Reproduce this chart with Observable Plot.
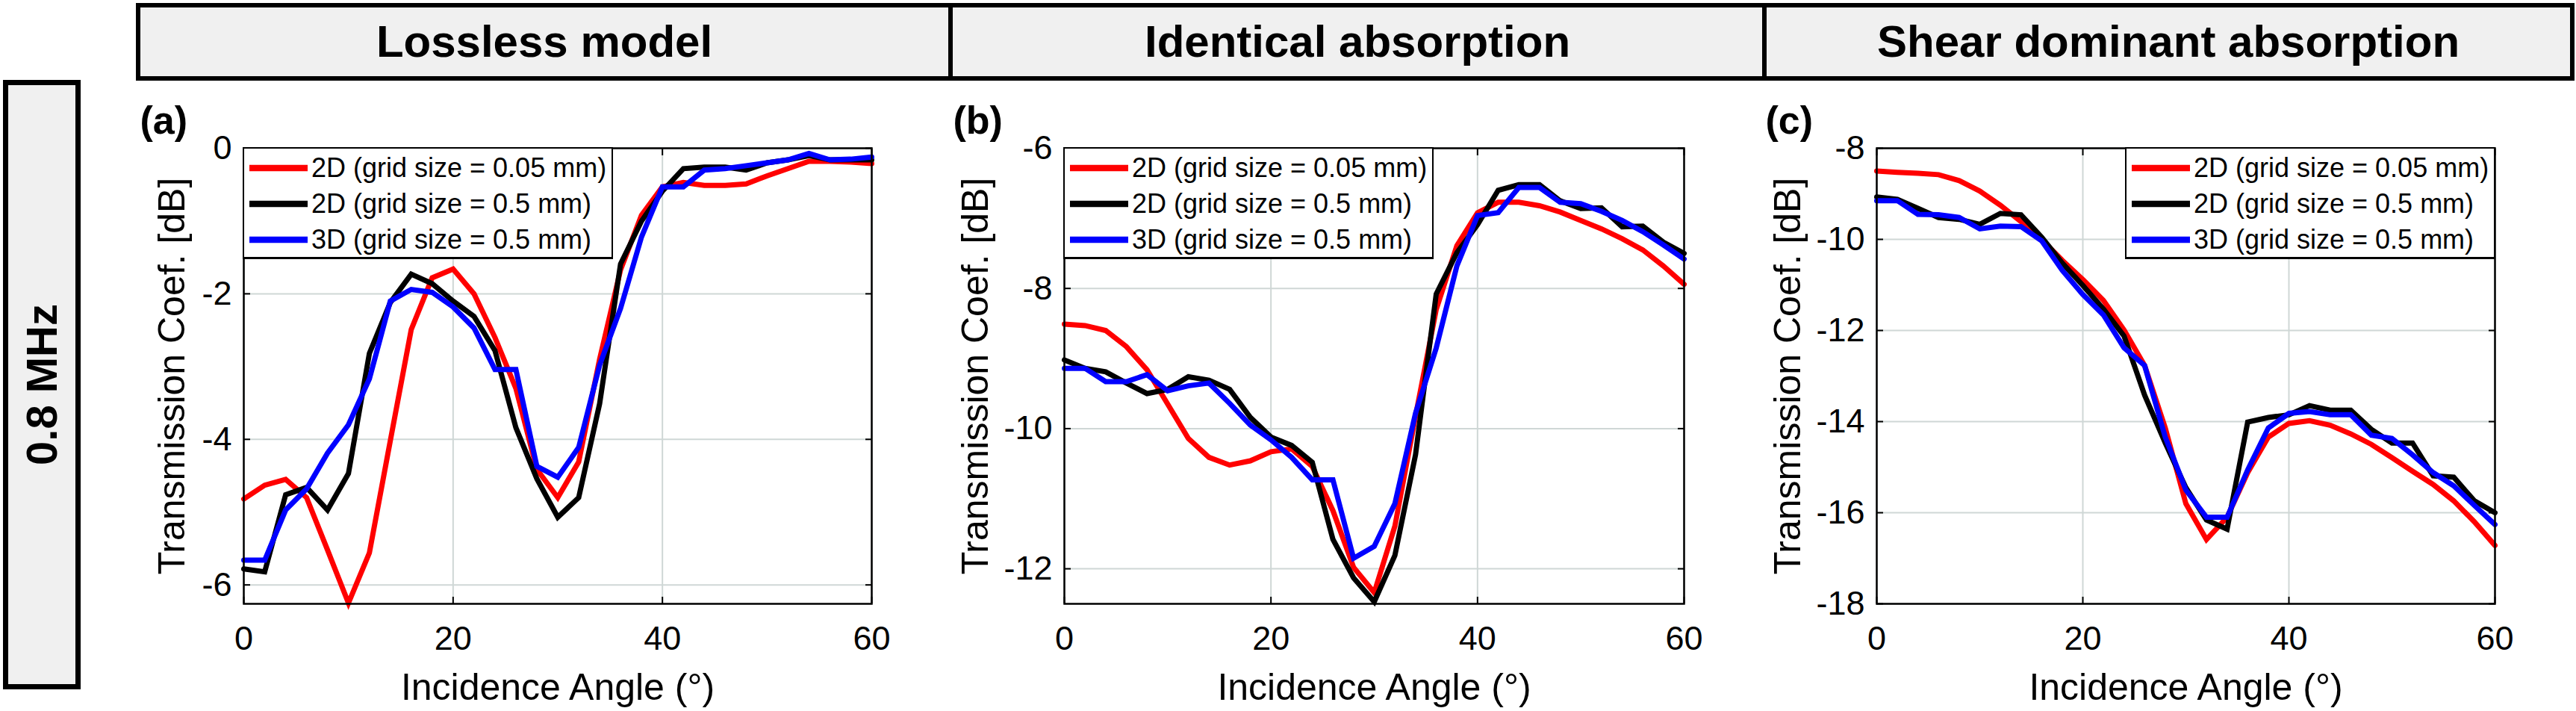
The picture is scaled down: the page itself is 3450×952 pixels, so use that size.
<!DOCTYPE html>
<html>
<head>
<meta charset="utf-8">
<script src="https://cdn.jsdelivr.net/npm/d3@7"></script>
<script src="https://cdn.jsdelivr.net/npm/@observablehq/plot@0.6"></script>
<style>
  html, body { margin: 0; padding: 0; background: #fff; }
  #root { position: relative; width: 3450px; height: 952px; overflow: hidden;
          font-family: "Liberation Sans", Arial, Helvetica, sans-serif; color: #000; }
  .hdr { position: absolute; box-sizing: border-box; border: 6px solid #000; background: #f0f0f0;
         display: flex; align-items: center; justify-content: center;
         font-weight: bold; font-size: 60px; line-height: 1; }
  .rowlab { position: absolute; box-sizing: border-box; border: 7px solid #000; background: #f0f0f0;
            display: flex; align-items: center; justify-content: center; }
  .rowlab span { display: block; transform: rotate(-90deg); white-space: nowrap;
                 font-weight: bold; font-size: 58px; line-height: 1; }
  .plotwrap { position: absolute; }
  .legend { position: absolute; box-sizing: border-box; background: #fff;
            border: 2px solid #000; border-bottom-width: 3px; padding-top: 2px; }
  .legrow { display: flex; align-items: center; height: 48px; font-size: 36px; white-space: nowrap; }
  .legrow svg { margin-left: 7px; margin-right: 5px; flex: none; }
</style>
</head>
<body>
<div id="root"></div>
<script>
// ---------------- data ----------------
const anglesDeg = [0, 2, 4, 6, 8, 10, 12, 14, 16, 18, 20, 22, 24, 26, 28, 30,
                   32, 34, 36, 38, 40, 42, 44, 46, 48, 50, 52, 54, 56, 58, 60];

const seriesNames = ["2D (grid size = 0.05 mm)", "2D (grid size = 0.5 mm)", "3D (grid size = 0.5 mm)"];
const seriesColors = ["#ff0000", "#000000", "#0000ff"];

const panelTitles = ["Lossless model", "Identical absorption", "Shear dominant absorption"];
const panelLetters = ["(a)", "(b)", "(c)"];
const rowLabel = "0.8 MHz";
const xLabel = "Incidence Angle (°)";
const yLabel = "Transmission Coef. [dB]";

const xTicks = [0, 20, 40, 60];
const yTicksA = [0, -2, -4, -6];
const yTicksB = [-6, -8, -10, -12];
const yTicksC = [-8, -10, -12, -14, -16, -18];
const yDomainA = [-6.26, 0];
const yDomainB = [-12.5, -6];
const yDomainC = [-18, -8];

// (a) Lossless model
const aRed   = [-4.82, -4.63, -4.55, -4.80, -5.52, -6.25, -5.56, -4.02, -2.49, -1.78, -1.66, -2.00, -2.60, -3.30, -4.41, -4.80,
                -4.31, -2.90, -1.67, -0.92, -0.53, -0.47, -0.51, -0.51, -0.49, -0.38, -0.28, -0.18, -0.18, -0.19, -0.21];
const aBlack = [-5.78, -5.82, -4.76, -4.66, -4.97, -4.47, -2.82, -2.12, -1.73, -1.86, -2.10, -2.31, -2.78, -3.84, -4.54, -5.07,
                -4.80, -3.51, -1.59, -1.00, -0.59, -0.28, -0.26, -0.26, -0.30, -0.20, -0.16, -0.10, -0.16, -0.16, -0.16];
const aBlue  = [-5.66, -5.66, -4.97, -4.68, -4.19, -3.80, -3.17, -2.10, -1.94, -1.98, -2.18, -2.47, -3.04, -3.04, -4.37, -4.52,
                -4.11, -2.98, -2.20, -1.22, -0.53, -0.53, -0.30, -0.28, -0.24, -0.20, -0.16, -0.07, -0.16, -0.15, -0.12];

// (b) Identical absorption
const bRed   = [-8.51, -8.53, -8.60, -8.83, -9.16, -9.65, -10.14, -10.41, -10.52, -10.46, -10.33, -10.29, -10.54, -11.17, -11.98, -12.34,
                -11.39, -9.82, -8.30, -7.39, -6.92, -6.77, -6.77, -6.82, -6.91, -7.03, -7.15, -7.29, -7.45, -7.68, -7.94];
const bBlack = [-9.02, -9.14, -9.19, -9.35, -9.50, -9.44, -9.26, -9.31, -9.44, -9.84, -10.12, -10.24, -10.48, -11.58, -12.13, -12.47,
                -11.81, -10.37, -8.08, -7.49, -7.09, -6.60, -6.52, -6.52, -6.75, -6.86, -6.85, -7.12, -7.11, -7.34, -7.50];
const bBlue  = [-9.14, -9.14, -9.33, -9.33, -9.23, -9.46, -9.39, -9.35, -9.64, -9.95, -10.16, -10.41, -10.73, -10.73, -11.85, -11.68,
                -11.07, -9.78, -8.85, -7.68, -6.96, -6.92, -6.56, -6.56, -6.77, -6.79, -6.90, -7.03, -7.19, -7.38, -7.58];

// (c) Shear dominant absorption
const cRed   = [-8.50, -8.53, -8.55, -8.58, -8.71, -8.94, -9.25, -9.61, -10.00, -10.46, -10.88, -11.34, -11.99, -12.77, -14.14, -15.80,
                -16.59, -16.10, -15.12, -14.34, -14.04, -13.98, -14.08, -14.27, -14.50, -14.79, -15.09, -15.38, -15.74, -16.20, -16.72];
const cBlack = [-9.07, -9.12, -9.32, -9.52, -9.56, -9.67, -9.43, -9.46, -9.95, -10.52, -11.01, -11.53, -12.12, -13.42, -14.47, -15.45,
                -16.16, -16.36, -14.01, -13.91, -13.85, -13.65, -13.75, -13.75, -14.17, -14.47, -14.47, -15.19, -15.22, -15.74, -16.00];
const cBlue  = [-9.15, -9.15, -9.45, -9.46, -9.52, -9.77, -9.71, -9.72, -10.03, -10.68, -11.21, -11.66, -12.38, -12.77, -14.34, -15.50,
                -16.10, -16.10, -15.06, -14.14, -13.82, -13.78, -13.85, -13.85, -14.30, -14.37, -14.73, -15.12, -15.41, -15.84, -16.26];

// ---------------- layout ----------------
const FONT = '"Liberation Sans", Arial, Helvetica, sans-serif';
const GRID = "#cfd7d6";
const MT = 70, MB = 144, ML = 150, MR = 10, FRAME_H = 610;
const H = MT + FRAME_H + MB;

const panels = [
  {title: panelTitles[0], letter: panelLetters[0], letterDx: -139, labelDx: -115, frameLeft: 326, frameW: 841,
   values: [aRed, aBlack, aBlue], yDomain: yDomainA, yTicks: yTicksA, legend: "left",
   hdrLeft: 182, hdrW: 1094},
  {title: panelTitles[1], letter: panelLetters[1], letterDx: -149, labelDx: -138, frameLeft: 1425, frameW: 830,
   values: [bRed, bBlack, bBlue], yDomain: yDomainB, yTicks: yTicksB, legend: "left",
   hdrLeft: 1270, hdrW: 1096},
  {title: panelTitles[2], letter: panelLetters[2], letterDx: -149, labelDx: -138, frameLeft: 2513, frameW: 828,
   values: [cRed, cBlack, cBlue], yDomain: yDomainC, yTicks: yTicksC, legend: "right",
   hdrLeft: 2360, hdrW: 1088}
];

const root = document.getElementById("root");

// row label box
const rl = document.createElement("div");
rl.className = "rowlab";
Object.assign(rl.style, {left: "4px", top: "107px", width: "104px", height: "816px"});
const rls = document.createElement("span");
rls.textContent = rowLabel;
rl.appendChild(rls);
root.appendChild(rl);

function makePlot(p) {
  const W = ML + p.frameW + MR;
  const rows = vals => anglesDeg.map((a, i) => ({angle: a, value: vals[i]}));
  const fmt = d => String(d);
  return Plot.plot({
    width: W, height: H,
    marginTop: MT, marginBottom: MB, marginLeft: ML, marginRight: MR,
    style: {fontFamily: FONT, fontSize: "45px", color: "#000", background: "transparent", overflow: "visible"},
    x: {domain: [0, 60]},
    y: {domain: p.yDomain},
    marks: [
      Plot.gridX(xTicks, {stroke: GRID, strokeOpacity: 1, strokeWidth: 2}),
      Plot.gridY(p.yTicks, {stroke: GRID, strokeOpacity: 1, strokeWidth: 2}),
      ...p.values.map((vals, k) => Plot.line(rows(vals), {
        x: "angle", y: "value", stroke: seriesColors[k], strokeWidth: 7,
        strokeLinejoin: "miter", strokeMiterlimit: 4
      })),
      Plot.frame({stroke: "#000", strokeWidth: 2.5}),
      Plot.axisX(xTicks, {anchor: "bottom", tickSize: -9, tickPadding: 39, strokeWidth: 2, tickFormat: fmt, label: null, fontSize: 45}),
      Plot.axisX(xTicks, {anchor: "top", tickSize: -9, strokeWidth: 2, tickFormat: () => "", label: null}),
      Plot.axisY(p.yTicks, {anchor: "left", tickSize: -9, tickPadding: 25, strokeWidth: 2, tickFormat: fmt, label: null, fontSize: 45}),
      Plot.axisY(p.yTicks, {anchor: "right", tickSize: -9, strokeWidth: 2, tickFormat: () => "", label: null}),
      Plot.text([xLabel], {text: d => d, frameAnchor: "bottom", dy: 93, lineAnchor: "top", fontSize: 50, fill: "#000"}),
      Plot.text([yLabel], {text: d => d, frameAnchor: "left", dx: p.labelDx, rotate: -90, textAnchor: "middle",
                           lineAnchor: "top", fontSize: 50, fill: "#000"}),
      Plot.text([p.letter], {text: d => d, frameAnchor: "top-left", dx: p.letterDx, dy: -20, lineAnchor: "bottom",
                             textAnchor: "start", fontSize: 52, fontWeight: "bold", fill: "#000"})
    ]
  });
}

panels.forEach(p => {
  // header
  const h = document.createElement("div");
  h.className = "hdr";
  h.textContent = p.title;
  Object.assign(h.style, {left: p.hdrLeft + "px", top: "4px", width: p.hdrW + "px", height: "104px"});
  root.appendChild(h);

  // plot
  const wrap = document.createElement("div");
  wrap.className = "plotwrap";
  wrap.style.left = (p.frameLeft - ML) + "px";
  wrap.style.top = (198 - MT) + "px";
  wrap.appendChild(makePlot(p));
  root.appendChild(wrap);

  // legend
  const lg = document.createElement("div");
  lg.className = "legend";
  const LW = 496, LH = 150;
  const left = p.legend === "left" ? p.frameLeft - 1 : p.frameLeft + p.frameW + 1 - LW;
  Object.assign(lg.style, {left: left + "px", top: "197px", width: LW + "px", height: LH + "px"});
  seriesNames.forEach((name, k) => {
    const row = document.createElement("div");
    row.className = "legrow";
    const svg = d3.create("svg").attr("width", 78).attr("height", 12);
    svg.append("line").attr("x1", 0).attr("x2", 78).attr("y1", 6).attr("y2", 6)
       .attr("stroke", seriesColors[k]).attr("stroke-width", 8.5);
    row.appendChild(svg.node());
    const t = document.createElement("span");
    t.textContent = name;
    row.appendChild(t);
    lg.appendChild(row);
  });
  root.appendChild(lg);
});
</script>
</body>
</html>
